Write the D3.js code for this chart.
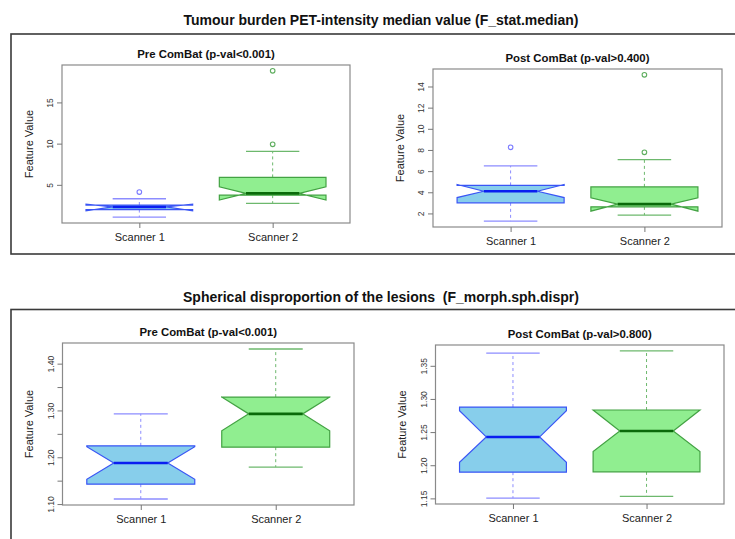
<!DOCTYPE html>
<html>
<head>
<meta charset="utf-8">
<script src="https://cdn.jsdelivr.net/npm/d3@7"></script>
<style>
  html, body { margin: 0; padding: 0; background: #fff; }
  svg { display: block; font-family: "Liberation Sans", Arial, Helvetica, sans-serif; }
</style>
</head>
<body>
<svg id="chart" width="735" height="539"></svg>
<script>
// Groups compared in every panel
const scanners = ["Scanner 1", "Scanner 2"];

// Tumour burden PET-intensity median value, before harmonisation
// each box: [lower whisker, Q1, median, Q3, upper whisker]
const tumourPreStats = [[1.08, 2.0, 2.32, 2.55, 3.31], [2.75, 3.75, 3.96, 5.9, 9.07]];
const tumourPreNotch = [[1.85, 2.65], [3.16, 4.76]];
const tumourPreOutliers = [[4.12], [9.92, 18.83]];
const tumourPreTicks = [5, 10, 15];
const tumourPreTickLabels = ["5", "10", "15"];

// Tumour burden PET-intensity median value, after harmonisation
const tumourPostStats = [[1.27, 3.0, 4.1, 4.65, 6.49], [1.84, 2.62, 2.88, 4.51, 7.09]];
const tumourPostNotch = [[3.5, 4.74], [2.22, 3.47]];
const tumourPostOutliers = [[8.25], [7.78, 15.1]];
const tumourPostTicks = [2, 4, 6, 8, 10, 12, 14];
const tumourPostTickLabels = ["2", "4", "6", "8", "10", "12", "14"];

// Spherical disproportion, before harmonisation
const sphPreStats = [[1.1108, 1.1425, 1.1877, 1.2244, 1.2927], [1.179, 1.2215, 1.2927, 1.3285, 1.4313]];
const sphPreNotch = [[1.153, 1.2224], [1.2567, 1.3287]];
const sphPreOutliers = [[], []];
const sphPreTicks = [1.10, 1.15, 1.20, 1.25, 1.30, 1.35, 1.40];
const sphPreTickLabels = ["1.10", "", "1.20", "", "1.30", "", "1.40"];

// Spherical disproportion, after harmonisation
const sphPostStats = [[1.1504, 1.1895, 1.2427, 1.2878, 1.369], [1.153, 1.19, 1.2517, 1.2833, 1.3725]];
const sphPostNotch = [[1.2045, 1.2822], [1.2206, 1.2833]];
const sphPostOutliers = [[], []];
const sphPostTicks = [1.15, 1.20, 1.25, 1.30, 1.35];
const sphPostTickLabels = ["1.15", "1.20", "1.25", "1.30", "1.35"];

const sectionTitles = [
  "Tumour burden PET-intensity median value (F_stat.median)",
  "Spherical disproportion of the lesions\u00a0\u00a0(F_morph.sph.dispr)"
];
const panelTitles = ["Pre ComBat (p-val<0.001)", "Post ComBat (p-val>0.400)",
                     "Pre ComBat (p-val<0.001)", "Post ComBat (p-val>0.800)"];
const yTitle = "Feature Value";

// Per-scanner styling
const styles = [
  { fill: "#87CEEB", border: "#3a55f5", whisker: "#8c8cff", median: "#0a1ef0", outlier: "#7b7bff" },
  { fill: "#90EE90", border: "#43a243", whisker: "#6db86d", median: "#0a6a0a", outlier: "#5fae5f" }
];

const panels = [
  { stats: tumourPreStats, notch: tumourPreNotch, out: tumourPreOutliers, ticks: tumourPreTicks, labels: tumourPreTickLabels,
    title: panelTitles[0], box: { l: 62, t: 65, r: 350, b: 223 } },
  { stats: tumourPostStats, notch: tumourPostNotch, out: tumourPostOutliers, ticks: tumourPostTicks, labels: tumourPostTickLabels,
    title: panelTitles[1], box: { l: 433, t: 69, r: 722, b: 227 } },
  { stats: sphPreStats, notch: sphPreNotch, out: sphPreOutliers, ticks: sphPreTicks, labels: sphPreTickLabels,
    title: panelTitles[2], box: { l: 62.5, t: 343, r: 354, b: 505 } },
  { stats: sphPostStats, notch: sphPostNotch, out: sphPostOutliers, ticks: sphPostTicks, labels: sphPostTickLabels,
    title: panelTitles[3], box: { l: 435.5, t: 345, r: 724, b: 504 } }
];

const svg = d3.select("#chart");

// Section frames and headings
const frames = [{ x: 11, y: 34, h: 220, title: sectionTitles[0], ty: 24.5 },
                { x: 11, y: 309.5, h: 300, title: sectionTitles[1], ty: 301.5 }];
frames.forEach(f => {
  svg.append("rect").attr("x", f.x).attr("y", f.y).attr("width", 760).attr("height", f.h)
    .attr("fill", "none").attr("stroke", "#3a3a3a").attr("stroke-width", 1.6);
  svg.append("text").attr("x", 381).attr("y", f.ty).attr("text-anchor", "middle")
    .attr("font-size", 14).attr("font-weight", "bold").attr("fill", "#111").text(f.title);
});

const boxWidth = 0.8, notchFrac = 0.5, stapleFrac = 0.5;

panels.forEach(p => {
  const b = p.box;
  const g = svg.append("g");

  // R-style axis extents: 4% padding around the data range
  const allVals = p.stats.flat().concat(p.out.flat());
  const lo = d3.min(allVals), hi = d3.max(allVals), pad = (hi - lo) * 0.04;
  const y = d3.scaleLinear().domain([lo - pad, hi + pad]).range([b.b, b.t]);
  const x = d3.scaleLinear().domain([0.42, 2.58]).range([b.l, b.r]);
  const ux = Math.abs(x(1) - x(0));

  // Boxes
  p.stats.forEach((s, i) => {
    const st = styles[i];
    const cx = x(i + 1);
    const [wLo, q1, med, q3, wHi] = s;
    const [nLo, nHi] = p.notch[i];
    const w = boxWidth * ux;

    // dashed whiskers
    [[q1, wLo], [q3, wHi]].forEach(([a, c]) => {
      g.append("line").attr("x1", cx).attr("x2", cx).attr("y1", y(a)).attr("y2", y(c))
        .attr("stroke", st.whisker).attr("stroke-width", 1).attr("stroke-dasharray", "3,3");
    });
    // staples
    [wLo, wHi].forEach(v => {
      g.append("line").attr("x1", cx - w * stapleFrac / 2).attr("x2", cx + w * stapleFrac / 2)
        .attr("y1", y(v)).attr("y2", y(v)).attr("stroke", st.whisker).attr("stroke-width", 1.3);
    });

    // notched box outline
    const xs = [-0.5, 0.5, 0.5, notchFrac / 2, 0.5, 0.5, -0.5, -0.5, -notchFrac / 2, -0.5];
    const ys = [q1, q1, nLo, med, nHi, q3, q3, nHi, med, nLo];
    const pts = xs.map((dx, k) => [cx + dx * w, y(ys[k])]);
    g.append("path").attr("d", d3.line()(pts) + "Z")
      .attr("fill", st.fill).attr("stroke", st.border).attr("stroke-width", 1.2)
      .attr("stroke-linejoin", "miter");

    // median
    g.append("line").attr("x1", cx - w * notchFrac / 2).attr("x2", cx + w * notchFrac / 2)
      .attr("y1", y(med)).attr("y2", y(med)).attr("stroke", st.median).attr("stroke-width", 2.6);

    // outliers
    p.out[i].forEach(v => {
      g.append("circle").attr("cx", cx).attr("cy", y(v)).attr("r", 2.3)
        .attr("fill", "none").attr("stroke", st.outlier).attr("stroke-width", 1.1);
    });
  });

  // Plot region border
  g.append("rect").attr("x", b.l).attr("y", b.t).attr("width", b.r - b.l).attr("height", b.b - b.t)
    .attr("fill", "none").attr("stroke", "#8a8a8a").attr("stroke-width", 1.2);

  // Y axis with rotated tick labels
  const yAxis = g.append("g").attr("transform", `translate(${b.l},0)`)
    .call(d3.axisLeft(y).tickValues(p.ticks).tickSize(5).tickSizeOuter(0)
      .tickFormat((d, k) => p.labels[k]));
  yAxis.select(".domain").remove();
  yAxis.selectAll(".tick line").attr("stroke", "#777");
  yAxis.selectAll(".tick text")
    .attr("x", null).attr("dy", null)
    .attr("transform", "translate(-12,0) rotate(-90)")
    .attr("text-anchor", "middle").attr("dominant-baseline", "central")
    .attr("font-size", 8.5).attr("fill", "#333");

  // X axis with scanner labels
  const xAxis = g.append("g").attr("transform", `translate(0,${b.b})`)
    .call(d3.axisBottom(x).tickValues([1, 2]).tickSize(5).tickSizeOuter(0)
      .tickFormat((d, k) => scanners[k]));
  xAxis.select(".domain").remove();
  xAxis.selectAll(".tick line").attr("stroke", "#777");
  xAxis.selectAll(".tick text").attr("y", 18).attr("dy", null)
    .attr("font-size", 11).attr("fill", "#222");

  // Panel title
  g.append("text").attr("x", (b.l + b.r) / 2).attr("y", b.t - 7).attr("text-anchor", "middle")
    .attr("font-size", 11.4).attr("font-weight", "bold").attr("fill", "#111").text(p.title);

  // Y axis title
  const cy = (b.t + b.b) / 2, tx = b.l - 33.5;
  g.append("text").attr("transform", `translate(${tx},${cy}) rotate(-90)`)
    .attr("text-anchor", "middle").attr("dominant-baseline", "central")
    .attr("font-size", 11).attr("fill", "#222").text(yTitle);
});
</script>
</body>
</html>
